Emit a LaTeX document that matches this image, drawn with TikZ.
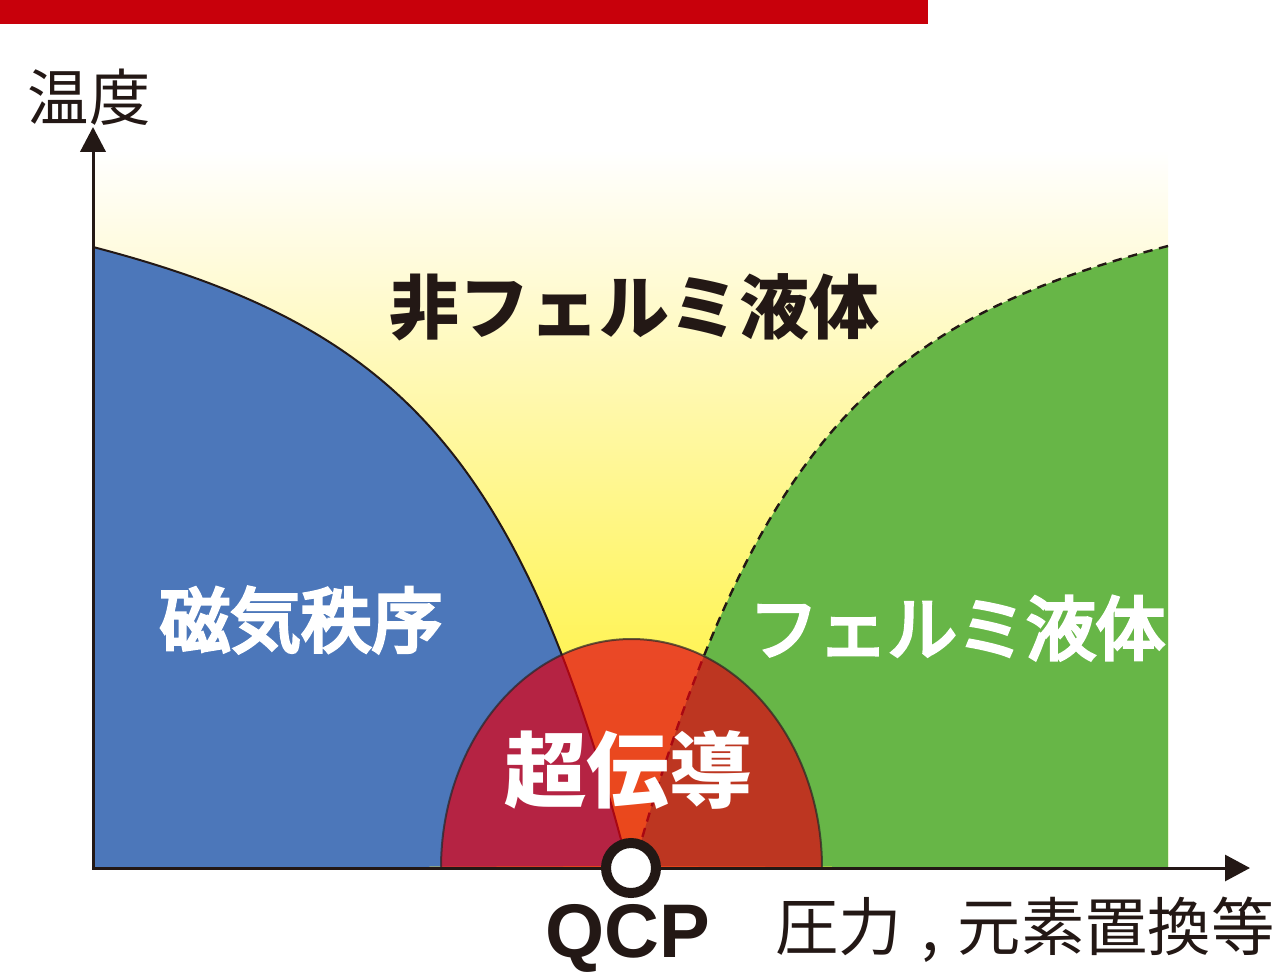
\documentclass[tikz,border=0pt]{standalone}
\usepackage{fontspec}
\usetikzlibrary{arrows.meta}
\newfontfamily\jp{Noto Sans CJK JP}
\newfontfamily\jpm{Noto Sans CJK JP}[FakeBold=5]
\newfontfamily\lat{Liberation Sans}
\definecolor{barred}{RGB}{200,0,11}
\definecolor{ink}{RGB}{35,24,21}
\definecolor{magblue}{RGB}{76,119,186}
\definecolor{fermigreen}{RGB}{103,182,71}
\definecolor{scred}{RGB}{226,0,17}
\definecolor{yA}{RGB}{255,242,50}
\definecolor{yB}{RGB}{255,243,75}
\definecolor{yC}{RGB}{255,245,105}
\definecolor{yD}{RGB}{255,248,165}
\definecolor{yE}{RGB}{255,251,220}
\pgfdeclareverticalshading{nflshade}{100bp}{color(0bp)=(yA); color(25bp)=(yA); color(36.7bp)=(yB); color(43.7bp)=(yC); color(56.2bp)=(yD); color(67.3bp)=(yE); color(75bp)=(white); color(100bp)=(white)}
\begin{document}
\begin{tikzpicture}[x=0.75pt,y=-0.75pt,
  blacklabel/.style={font=\jp\bfseries\fontsize{52.5}{60}\selectfont, text=ink, inner sep=0pt},
  whitelabel/.style={font=\jpm\fontsize{53}{60}\selectfont, text=white, inner sep=0pt},
  axislabel/.style={font=\jp\fontsize{46}{52}\selectfont, text=ink, inner sep=0pt},
  boundary/.style={ink, line width=1.5pt},
  crossover/.style={ink, line width=1.8pt, dash pattern=on 7pt off 5pt},
  axisline/.style={ink, line width=2.25pt, line join=miter},
]
\useasboundingbox (0,0) rectangle (1284,980);
% top bar
\fill[barred] (0,0) rectangle (928,24);
% non-Fermi-liquid background
\shade[shading=nflshade] (93,150) rectangle (1168,868);
% magnetic order
\fill[magblue] (93,868) -- (93,247) .. controls (393,325) and (520,450) .. (628,866) -- cycle;
% Fermi liquid
\fill[fermigreen] (1168,868) -- (1168,246) .. controls (880,320) and (755,440) .. (634,866) -- cycle;
% boundaries
\coordinate (bstart) at (93,247);
\coordinate (bend) at (628,866);
\coordinate (gstart) at (1168,246);
\coordinate (gend) at (634,866);
\draw[boundary] (bstart) .. controls (393,325) and (520,450) .. (bend);
\draw[crossover] (gstart) .. controls (880,320) and (755,440) .. (gend);
% superconducting dome
\fill[scred, fill opacity=0.7] (441,868) arc[start angle=180, end angle=360, x radius=190.5, y radius=229] -- cycle;
\draw[black!85, draw opacity=0.7, line width=1.5pt] (441,868) arc[start angle=180, end angle=360, x radius=190.5, y radius=229];
% axes
\coordinate (O) at (93,868);
\coordinate (Ytip) at (93,127);
\coordinate (Xtip) at (1250,868);
\draw[axisline, {Triangle[length=18.75pt,width=19pt]}-{Triangle[length=18.75pt,width=19.5pt]}] (Ytip) -- (O) -- (Xtip);
% QCP
\node[circle, draw=ink, line width=7.5pt, fill=white, minimum size=37.5pt, inner sep=0pt] (qcp) at (631,868) {};
% labels
\node[axislabel] (temp) at (89,97) {温度};
\node[blacklabel] (nfl) at (634,307) {非フェルミ液体};
\node[whitelabel] (mag) at (301,620) {磁気秩序};
\node[whitelabel, font=\jpm\fontsize{52}{60}\selectfont] (fl) at (957,628) {フェルミ液体};
\node[whitelabel, font=\jp\bfseries\fontsize{62}{70}\selectfont] (sc) at (628,770) {超伝導};
\node[font=\lat\bfseries\fontsize{57}{62}\selectfont, text=ink, inner sep=0pt] (qcplabel) at (628,938) {QCP};
\node[axislabel, font=\jp\fontsize{47.5}{52}\selectfont] (press) at (1025,930) {圧力\hspace{0.3em},\hspace{0.3em}元素置換等};
\end{tikzpicture}
\end{document}
